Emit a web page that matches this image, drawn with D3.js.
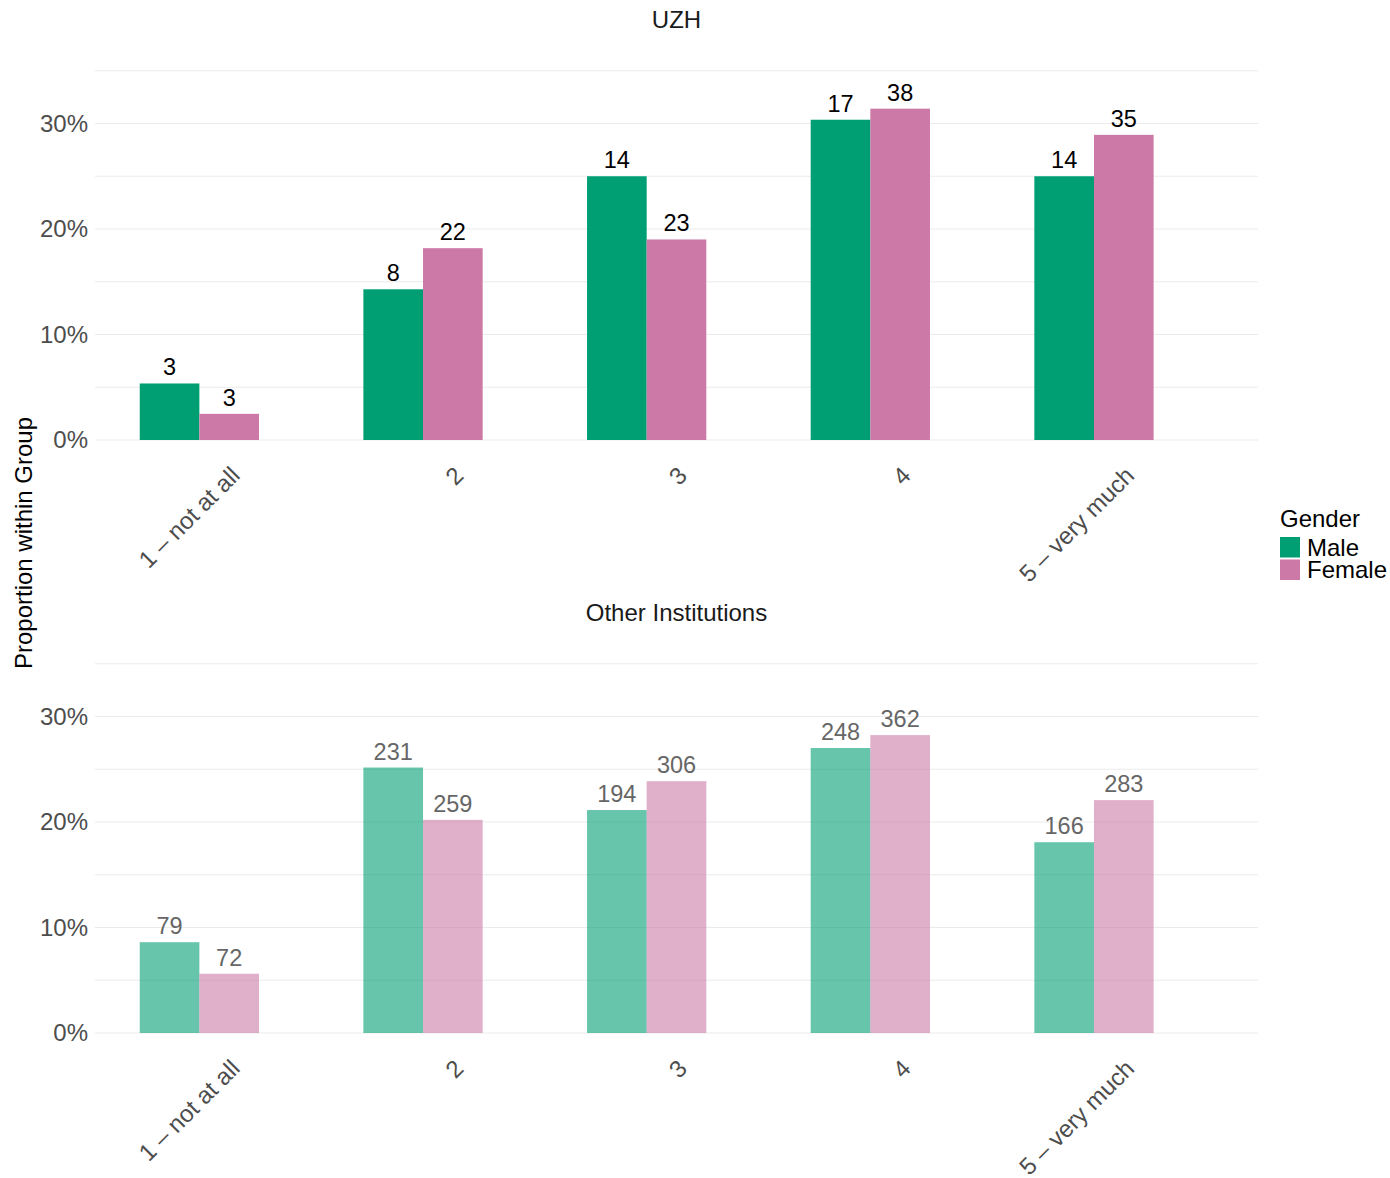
<!DOCTYPE html>
<html>
<head>
<meta charset="utf-8">
<script src="https://cdn.jsdelivr.net/npm/d3@7"></script>
<style>
  html, body { margin: 0; padding: 0; background: #ffffff; }
  svg { display: block; font-family: "Liberation Sans", Arial, sans-serif; }
</style>
</head>
<body>
<svg id="chart" width="1390" height="1178"></svg>
<script>
// ---- data ----
const categories = ["1 – not at all", "2", "3", "4", "5 – very much"];
const genders = ["Male", "Female"];
const dodgeLevels = ["Male", "Female", "Other"];
const panelTitles = ["UZH", "Other Institutions"];
const uzhMale = [3, 8, 14, 17, 14];
const uzhFemale = [3, 22, 23, 38, 35];
const otherMale = [79, 231, 194, 248, 166];
const otherFemale = [72, 259, 306, 362, 283];
const yTickValues = [0, 0.1, 0.2, 0.3];
const yGridValues = [0, 0.05, 0.1, 0.15, 0.2, 0.25, 0.3, 0.35];
const genderColors = ["#009E73", "#CC79A7"];

const panelCounts = [
  { title: panelTitles[0], series: [uzhMale, uzhFemale], opacity: 1, labelColor: "#000000" },
  { title: panelTitles[1], series: [otherMale, otherFemale], opacity: 0.6, labelColor: "#666666" }
];

const svg = d3.select("#chart");
const left = 95, right = 1258;
const fontSize = 24;
const labelSize = 23.5;

const x = d3.scaleBand().domain(categories).range([left, right]).paddingInner(0).paddingOuter(0.1);
const xSub = d3.scaleBand().domain(dodgeLevels)
  .range([x.bandwidth() * 0.1, x.bandwidth() * 0.9]).padding(0);
const color = d3.scaleOrdinal().domain(genders).range(genderColors);

const panelLayout = [
  { base: 440, titleY: 28 },
  { base: 1033, titleY: 621 }
];

panelCounts.forEach((p, pi) => {
  const lay = panelLayout[pi];
  const y = d3.scaleLinear().domain([0, 0.3]).range([lay.base, lay.base - 316.5]);
  const g = svg.append("g");

  // gridlines
  g.selectAll("line.grid").data(yGridValues).join("line")
    .attr("x1", left).attr("x2", right)
    .attr("y1", d => y(d)).attr("y2", d => y(d))
    .attr("stroke", "#ebebeb").attr("stroke-width", 1.1);

  // y axis tick labels via d3 axis
  const yAxis = d3.axisLeft(y).tickValues(yTickValues).tickFormat(d3.format(".0%")).tickSize(0).tickPadding(7);
  const ya = g.append("g").attr("transform", `translate(${left},0)`).call(yAxis);
  ya.select(".domain").remove();
  ya.selectAll("text").attr("font-size", fontSize).attr("fill", "#4d4d4d")
    .attr("font-family", "Liberation Sans, Arial, sans-serif");

  // bars
  const rows = [];
  p.series.forEach((s, gi) => {
    const total = d3.sum(s);
    s.forEach((v, ci) => rows.push({ cat: categories[ci], gender: genders[gi], count: v, prop: v / total }));
  });

  g.selectAll("rect.bar").data(rows).join("rect")
    .attr("x", d => x(d.cat) + xSub(d.gender))
    .attr("width", xSub.bandwidth())
    .attr("y", d => y(d.prop))
    .attr("height", d => y(0) - y(d.prop))
    .attr("fill", d => color(d.gender))
    .attr("fill-opacity", p.opacity);

  g.selectAll("text.val").data(rows).join("text")
    .attr("x", d => x(d.cat) + xSub(d.gender) + xSub.bandwidth() / 2)
    .attr("y", d => y(d.prop) - 8)
    .attr("text-anchor", "middle")
    .attr("font-size", labelSize)
    .attr("fill", p.labelColor)
    .text(d => d.count);

  // x axis labels
  const xAxis = d3.axisBottom(x).tickSize(0).tickPadding(0);
  const xa = g.append("g").attr("transform", `translate(0,${lay.base})`).call(xAxis);
  xa.select(".domain").remove();
  xa.selectAll(".tick text")
    .attr("font-size", fontSize)
    .attr("fill", "#4d4d4d")
    .attr("font-family", "Liberation Sans, Arial, sans-serif")
    .attr("text-anchor", "end")
    .attr("dy", null)
    .attr("y", null)
    .attr("transform", "translate(12,37) rotate(-45)");

  // panel title
  svg.append("text")
    .attr("x", (left + right) / 2).attr("y", lay.titleY)
    .attr("text-anchor", "middle").attr("font-size", fontSize).attr("fill", "#1a1a1a")
    .text(p.title);
});

// y axis title
svg.append("text")
  .attr("transform", "translate(32,543) rotate(-90)")
  .attr("text-anchor", "middle").attr("font-size", fontSize).attr("fill", "#000000")
  .text("Proportion within Group");

// legend
const leg = svg.append("g");
leg.append("text").attr("x", 1280).attr("y", 527).attr("font-size", fontSize).attr("fill", "#000").text("Gender");
genders.forEach((gname, i) => {
  leg.append("rect").attr("x", 1280).attr("y", 537 + i * 22.5).attr("width", 20).attr("height", 20.5)
    .attr("fill", color(gname));
  leg.append("text").attr("x", 1307).attr("y", 555.5 + i * 22.5).attr("font-size", fontSize).attr("fill", "#000").text(gname);
});
</script>
</body>
</html>
